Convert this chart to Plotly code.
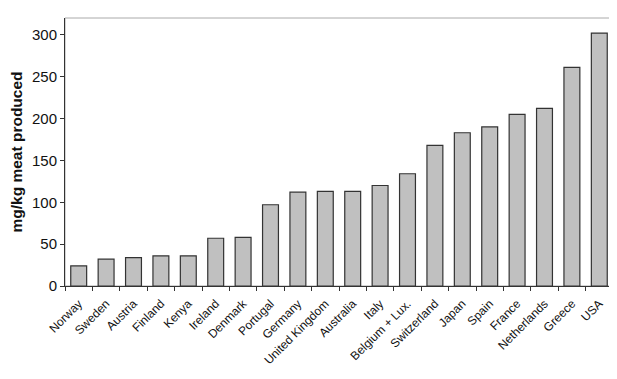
import plotly.graph_objects as go

countries = ["Norway", "Sweden", "Austria", "Finland", "Kenya", "Ireland", "Denmark",
             "Portugal", "Germany", "United Kingdom", "Australia", "Italy", "Belgium + Lux.",
             "Switzerland", "Japan", "Spain", "France", "Netherlands", "Greece", "USA"]
values = [24, 32, 34, 36, 36, 57, 58, 97, 112, 113, 113, 120, 134, 168, 183, 190, 205, 212, 261, 302]
y_ticks = [0, 50, 100, 150, 200, 250, 300]

fig = go.Figure(go.Bar(
    x=countries, y=values,
    marker=dict(color="#c0c0c0", line=dict(color="#333333", width=1.2)),
))

fig.update_layout(
    width=609, height=371,
    margin=dict(l=57, r=4, t=10, b=93),
    paper_bgcolor="white", plot_bgcolor="white",
    bargap=0.42, showlegend=False,
    font=dict(family="Liberation Sans, Arial, sans-serif", color="#111111"),
    shapes=[dict(type="rect", xref="paper", yref="paper", x0=0, x1=1, y0=0, y1=1,
                 line=dict(color="#aaaaaa", width=1), layer="below")],
)
fig.update_xaxes(
    automargin=False,
    tickangle=-45, tickfont=dict(size=12), showline=True, linecolor="#333333", linewidth=1,
    ticks="outside", tickson="boundaries", ticklen=4, tickcolor="#333333", showgrid=False,
    ticklabelstandoff=5,
)
fig.update_yaxes(
    automargin=False,
    range=[0, 320], tickvals=y_ticks, tickfont=dict(size=15), showline=True,
    linecolor="#333333", linewidth=1, ticks="outside", ticklen=4, tickcolor="#333333",
    showgrid=False, zeroline=False,
    title=dict(text="<b>mg/kg meat produced</b>", font=dict(size=15.5), standoff=8),
)
fig.write_html("out.html")
